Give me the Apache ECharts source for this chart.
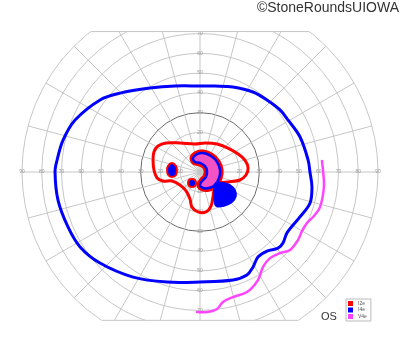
<!DOCTYPE html>
<html><head><meta charset="utf-8">
<script src="https://cdn.jsdelivr.net/npm/echarts@6/dist/echarts.min.js"></script>
<style>html,body{margin:0;padding:0;background:#fff}#c{width:400px;height:352px}</style>
</head><body><div id="c"></div>
<script>
// ---- data: [eccentricity (deg), meridian angle (deg, 0 = right, counter-clockwise)] ----
const ISOPTERS = ['I2e', 'I4e', 'V4e'];
const ISO_COLORS = ['#ff0000', '#0000ff', '#ff44ff'];

const I4E_OUTER = [[55.6,0],[55.0,6.3],[53.6,19.3],[51.7,30.6],[51.2,37.8],[49.7,47.1],[48.5,56.5],[46.1,68.8],[44.1,80.1],[43.5,90],[45.3,106.2],[49.4,120.8],[56.8,135.4],[62.3,144.2],[68.4,157.4],[71.1,166.9],[72.5,175.2],[73.3,180],[73.2,191.2],[72.3,202.6],[71.5,212],[68.4,222.3],[63.0,237.5],[58.1,253.3],[55.6,270],[57.1,287],[57.2,294.5],[55.0,299.2],[52.0,304.3],[52.4,310.3],[55.1,315.7],[55.2,319.5],[53.7,325],[55.4,335.8],[57.8,344.3],[57.1,352.4]];

const I4E_BLOB_LARGE = [[9.8,325.5],[13.3,335.4],[16.5,336.6],[19.9,332.8],[21.9,326.3],[22.2,316.8],[21.0,305.2],[19.0,295.2],[14.9,298.3],[11.1,309.5]];
const I4E_BLOB_LEFT = [[14.9,162.2],[12.5,166],[11.7,175],[12.2,187.1],[14.4,190.1],[16.2,185.4],[16.7,176.5],[16.5,169.4]];
const I4E_BLOB_CENTER = [[5.4,221.2],[4.8,238],[5.9,250],[7.5,250.3],[8.6,241.9],[9.0,231.8],[8.2,222.5],[6.9,216]];

const I2E_CONTOUR = [[25.4,156.5],[25.0,148.2],[22.6,139.5],[17.8,124.6],[14.4,100.1],[14.9,80.2],[16.6,58.7],[18.6,40.6],[21.3,25.3],[23.5,14.9],[24.4,4.8],[23.3,356.3],[20.6,348.7],[15.0,340.3],[11.5,331.2],[10.7,315],[14.2,297.5],[18.1,287.9],[20.4,278.5],[20.2,267.1],[18.2,257.1],[14.6,249.7],[11.9,233.6],[12.1,213.0],[14.9,197.8],[19.3,193.7],[21.9,187.9],[23.3,177.5],[24.5,165.7]];

const V4E_CRESCENT = [[7.9,116.6],[9.2,99.5],[9.7,81.0],[9.8,55.5],[10.0,30.5],[10.2,5.7],[10.1,342.5],[10.0,319.1],[9.3,299.4],[8.2,280.6],[6.6,270],[4.7,282.5],[3.9,320.2],[3.6,8.1],[3.9,50.2],[4.6,90],[5.7,116.6]];

const V4E_LINE = [[61.9,5.2],[62.2,0.9],[63.1,353.1],[63.2,343.7],[61.5,338.3],[59.9,334.5],[59.6,330.0],[60.3,325.2],[60.2,319.1],[57.6,314.6],[56.1,309.1],[57.6,303.6],[62.0,298.2],[65.2,291.4],[65.4,284.8],[66.7,280.0],[69.8,277.1],[70.9,272.9],[70.8,268.8]];

const RADIUS_MAX = 90, RING_STEP = 10, MERIDIAN_STEP = 15;
const VERT_LABEL_MAX = 70;
const CLIP_TOP = 71, CLIP_BOTTOM = 75;

// ---- styles ----
const GRID = '#c6c6c6';
const RING_COLORS = ['#c6c6c6','#c6c6c6','#c6c6c6','#6a6a6a','#c6c6c6','#c6c6c6','#c6c6c6','#c6c6c6','#c6c6c6','#c6c6c6'];
const CENTER = [200, 172], RADIUS = 178;

function shape(name, color, pts, style, closed) {
  return {
    type: 'custom', name: name, coordinateSystem: 'polar', polarIndex: 0,
    data: pts, encode: { radius: 0, angle: 1 },
    itemStyle: { color: color }, silent: true, animation: false,
    renderItem: function (params, api) {
      if (params.dataIndex !== 0) return null;
      const p = pts.map(function (d) { return api.coord(d); });
      return {
        type: closed ? 'polygon' : 'polyline',
        shape: { points: p, smooth: 0.35 },
        style: Object.assign({ fill: 'none', lineJoin: 'round', lineCap: 'round' }, style)
      };
    }
  };
}

const starts = [0, 90, 180, 270];
const option = {
  animation: false,
  polar: starts.map(function () { return { center: CENTER, radius: RADIUS }; }),
  angleAxis: starts.map(function (s, i) {
    return {
      polarIndex: i, type: 'value', min: 0, max: 360, interval: MERIDIAN_STEP,
      startAngle: s, clockwise: false,
      axisLine: { show: false }, axisTick: { show: false }, axisLabel: { show: false },
      splitLine: { show: i === 0, lineStyle: { color: GRID, width: 1 } }
    };
  }),
  radiusAxis: starts.map(function (s, i) {
    return {
      polarIndex: i, type: 'value', min: 0, max: RADIUS_MAX, interval: RING_STEP,
      axisLine: { show: false }, axisTick: { show: false },
      axisLabel: {
        show: true, fontSize: 5, color: '#9a9a9a', margin: 0,
        verticalAlign: 'middle', align: 'center', fontFamily: 'Liberation Sans',
        formatter: function (v) {
          if (v === 0) return '';
          if (s % 180 !== 0 && v > VERT_LABEL_MAX) return '';
          return String(v);
        }
      },
      splitLine: { show: i === 0, lineStyle: { color: RING_COLORS, width: 1 } }
    };
  }),
  legend: {
    data: ISOPTERS, left: 346, top: 299, orient: 'vertical', icon: 'rect',
    itemWidth: 5, itemHeight: 5, itemGap: 1.5, padding: [2, 4, 2, 2],
    borderColor: '#bbbbbb', borderWidth: 1, backgroundColor: '#fff', z: 60,
    textStyle: { fontSize: 5, color: '#555', fontFamily: 'Liberation Sans' },
    selectedMode: false
  },
  series: [
    shape('I4e', ISO_COLORS[1], I4E_OUTER, { stroke: ISO_COLORS[1], lineWidth: 3 }, true),
    shape('V4e', ISO_COLORS[2], V4E_LINE, { stroke: ISO_COLORS[2], lineWidth: 2.5 }, false),
    shape('I2e', ISO_COLORS[0], I2E_CONTOUR, { stroke: ISO_COLORS[0], lineWidth: 3 }, true),
    shape('I2e', ISO_COLORS[0], V4E_CRESCENT, { stroke: ISO_COLORS[0], lineWidth: 7, fill: ISO_COLORS[0] }, true),
    shape('V4e', ISO_COLORS[2], V4E_CRESCENT, { stroke: ISO_COLORS[1], lineWidth: 2.5, fill: 'rgba(240,100,240,0.82)' }, true),
    shape('I2e', ISO_COLORS[0], I4E_BLOB_LEFT, { stroke: ISO_COLORS[0], lineWidth: 2, fill: ISO_COLORS[1] }, true),
    shape('I2e', ISO_COLORS[0], I4E_BLOB_CENTER, { stroke: ISO_COLORS[0], lineWidth: 2, fill: ISO_COLORS[1] }, true),
    shape('I4e', ISO_COLORS[1], I4E_BLOB_LARGE, { stroke: ISO_COLORS[1], lineWidth: 1.5, fill: ISO_COLORS[1] }, true)
  ]
};

const chart = echarts.init(document.getElementById('c'), null, { renderer: 'canvas' });
chart.setOption(option);

// clip the chart top and bottom (chords of the outer ring), positions from the polar scale
const toPx = function (d) { return chart.convertToPixel({ seriesIndex: 0 }, d); };
const aTop = Math.asin(CLIP_TOP / RADIUS_MAX) * 180 / Math.PI;
const aBot = Math.asin(CLIP_BOTTOM / RADIUS_MAX) * 180 / Math.PI;
const tl = toPx([RADIUS_MAX, 180 - aTop]), tr = toPx([RADIUS_MAX, aTop]);
const bl = toPx([RADIUS_MAX, 180 + aBot]), br = toPx([RADIUS_MAX, 360 - aBot]);
chart.setOption({
  graphic: [
    { type: 'rect', z: 50, silent: true, shape: { x: 0, y: 0, width: 400, height: tl[1] }, style: { fill: '#fff' } },
    { type: 'rect', z: 50, silent: true, shape: { x: 0, y: bl[1], width: 400, height: 352 - bl[1] }, style: { fill: '#fff' } },
    { type: 'line', z: 51, silent: true, shape: { x1: tl[0], y1: tl[1], x2: tr[0], y2: tr[1] }, style: { stroke: GRID, lineWidth: 1 } },
    { type: 'line', z: 51, silent: true, shape: { x1: bl[0], y1: bl[1], x2: br[0], y2: br[1] }, style: { stroke: GRID, lineWidth: 1 } },
    { type: 'text', z: 60, right: 1, top: 1, style: { text: '©StoneRoundsUIOWA', font: '14px "Liberation Sans", Arial, sans-serif', fill: '#333' } },
    { type: 'text', z: 60, left: 321, top: 311, style: { text: 'OS', font: '11px "Liberation Sans", Arial, sans-serif', fill: '#333' } }
  ]
});
</script>
</body></html>
